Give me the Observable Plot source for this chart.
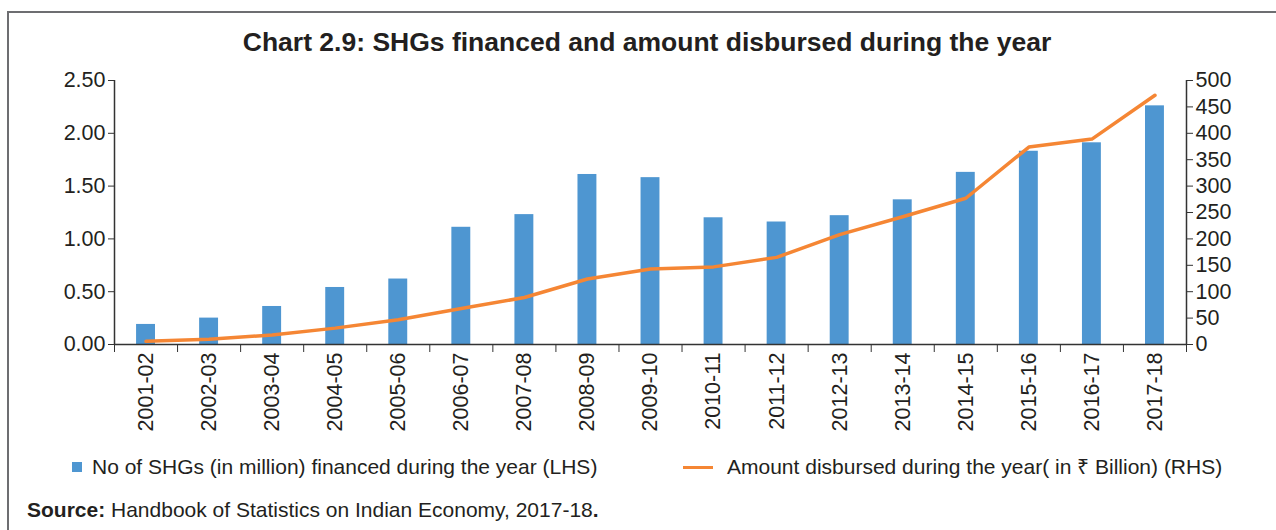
<!DOCTYPE html>
<html>
<head>
<meta charset="utf-8">
<script src="https://cdn.jsdelivr.net/npm/d3@7"></script>
<script src="https://cdn.jsdelivr.net/npm/@observablehq/plot@0.6"></script>
<style>
  html, body { margin: 0; padding: 0; background: #fff; }
  body { width: 1276px; height: 530px; position: relative; overflow: hidden;
         font-family: "Liberation Sans", Arial, Helvetica, sans-serif; color: #231f20; }
  #frame { position: absolute; left: 7px; top: 11px; width: 1269px; height: 519px;
           border-top: 2px solid #6d6e71; border-left: 2px solid #6d6e71; box-sizing: border-box; }
  #title { position: absolute; left: 0; width: 1294px; top: 26px; text-align: center;
           font-weight: bold; font-size: 26.5px; line-height: 32px; }
  #chart { position: absolute; left: 0; top: 0; }
  #legend { position: absolute; top: 453px; left: 0; width: 1276px; font-size: 21px; }
  .leg { position: absolute; display: flex; align-items: center; white-space: nowrap; line-height: 28px; }
  .sw-bar { width: 10px; height: 10px; background: #4e96d1; margin-right: 10px; }
  .sw-line { width: 30px; height: 3px; background: #f58634; margin-right: 14px; }
  #source { position: absolute; left: 27px; top: 496px; font-size: 21px; line-height: 28px; white-space: nowrap; }
</style>
</head>
<body>
<div id="frame"></div>
<div id="title">Chart 2.9: SHGs financed and amount disbursed during the year</div>
<div id="chart"></div>
<div id="legend">
  <div class="leg" style="left:72px;"><span class="sw-bar"></span><span id="l1"></span></div>
  <div class="leg" style="left:683px;"><span class="sw-line"></span><span id="l2"></span></div>
</div>
<div id="source"><b>Source:</b> Handbook of Statistics on Indian Economy, 2017-18<b>.</b></div>
<script>
const years = ["2001-02","2002-03","2003-04","2004-05","2005-06","2006-07","2007-08","2008-09","2009-10","2010-11","2011-12","2012-13","2013-14","2014-15","2015-16","2016-17","2017-18"];
const shgMillion = [0.19,0.25,0.36,0.54,0.62,1.11,1.23,1.61,1.58,1.20,1.16,1.22,1.37,1.63,1.83,1.91,2.26];
const amountBillion = [6,10,18,31,47,68,89,124,143,147,165,208,242,277,374,389,472];
const leftTicks = [0,0.5,1.0,1.5,2.0,2.5];
const rightTicks = [0,50,100,150,200,250,300,350,400,450,500];
const seriesNames = ["No of SHGs (in million) financed during the year (LHS)", "Amount disbursed during the year( in \u20B9 Billion) (RHS)"];

document.getElementById("l1").textContent = seriesNames[0];
document.getElementById("l2").textContent = seriesNames[1];

const n = years.length;
const ratio = 500 / 2.5; // right-axis units per left-axis unit
const data = years.map((y, i) => ({year: y, i, shg: shgMillion[i], amt: amountBillion[i]}));
const half = 0.15; // half bar width in band units

const chart = Plot.plot({
  width: 1276,
  height: 440,
  marginTop: 80,
  marginBottom: 96,
  marginLeft: 114,
  marginRight: 90,
  style: {fontFamily: "'Liberation Sans', Arial, sans-serif", fontSize: "21.5px", color: "#231f20", background: "transparent"},
  x: {type: "linear", domain: [0, n]},
  y: {domain: [0, 2.5]},
  marks: [
    Plot.rectY(data, {x1: d => d.i + 0.5 - half, x2: d => d.i + 0.5 + half, y: "shg", fill: "#4e96d1"}),
    Plot.line(data, {x: d => d.i + 0.5, y: d => d.amt / ratio, stroke: "#f58634", strokeWidth: 3.5}),
    Plot.ruleY([0], {stroke: "#333", strokeWidth: 1.5}),
    Plot.ruleX([0, n], {y1: 0, y2: 2.5, stroke: "#333", strokeWidth: 1.5}),
    Plot.axisY(leftTicks, {anchor: "left", tickSize: 6, tickPadding: 3, fontSize: 21.5, tickFormat: d => d.toFixed(2), stroke: "#333", label: null}),
    Plot.axisY(rightTicks.map(v => v / ratio), {anchor: "right", tickSize: 6, tickPadding: 3, fontSize: 21.5, tickFormat: d => String(Math.round(d * ratio)), stroke: "#333", label: null}),
    Plot.axisX(d3.range(0, n + 1), {tickSize: 8, tickFormat: () => "", stroke: "#333", label: null}),
    Plot.axisX(d3.range(n).map(i => i + 0.5), {tickSize: 0, tickPadding: 8, fontSize: 21.5, tickRotate: -90, tickFormat: d => years[Math.round(d - 0.5)], label: null})
  ]
});
document.getElementById("chart").appendChild(chart);
</script>
</body>
</html>
